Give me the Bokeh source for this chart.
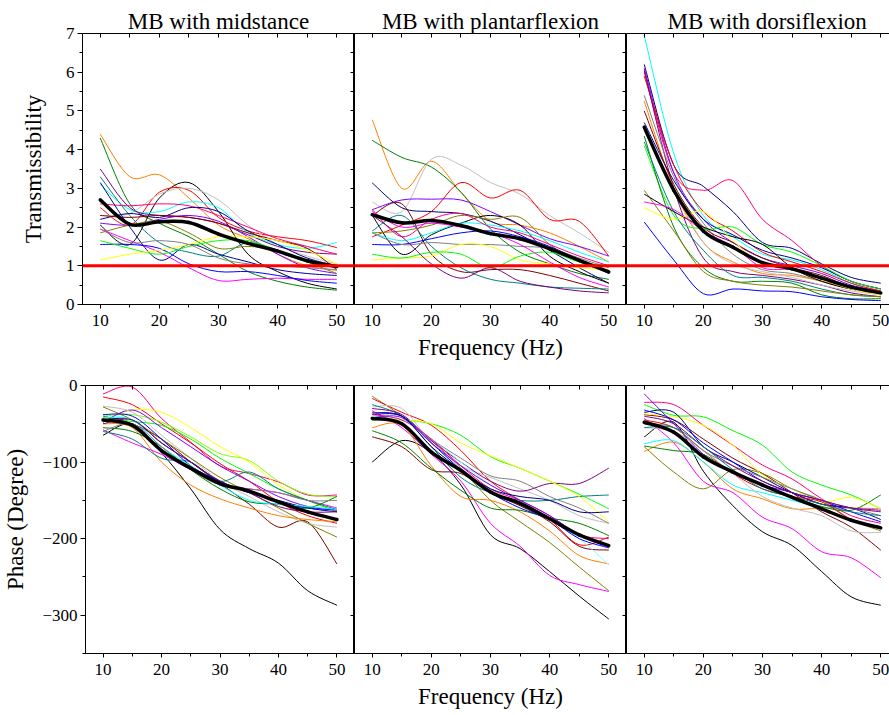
from bokeh.plotting import figure
from bokeh.models import LinearAxis, FixedTicker, Span, Range1d
from bokeh.layouts import column, row
from bokeh.embed import file_html
from bokeh.resources import INLINE

FREQ = [10, 15, 20, 25, 30, 35, 40, 45, 50]
TITLES = ["MB with midstance", "MB with plantarflexion", "MB with dorsiflexion"]
X_TICKS = [10, 20, 30, 40, 50]
X_MINOR = [15, 25, 35, 45]
T_TICKS = [0, 1, 2, 3, 4, 5, 6, 7]
P_TICKS = [-300, -200, -100, 0]

# ---- Transmissibility, midstance ----
T_MID_COLORS = ["#FF8000", "#008000", "#000000", "#FF0000", "#C0C0C0", "#00FFFF", "#800080",
                "#008080", "#FF0080", "#000080", "#8000FF", "#808000", "#800000", "#FF00FF",
                "#0000FF", "#0000A0", "#00FF00", "#FFFF00", "#808080"]
T_MID = [
    [4.40, 3.30, 3.35, 2.75, 2.05, 1.70, 1.30, 1.00, 0.88],
    [4.30, 2.60, 2.10, 1.75, 1.30, 0.85, 0.60, 0.45, 0.37],
    [2.05, 1.55, 2.75, 3.15, 2.40, 1.30, 0.85, 0.55, 0.40],
    [2.50, 2.05, 2.90, 2.95, 2.25, 1.90, 1.75, 1.65, 1.47],
    [2.30, 2.35, 2.85, 3.00, 2.70, 2.05, 1.55, 1.25, 1.05],
    [3.10, 2.45, 2.40, 2.65, 2.50, 1.85, 1.55, 1.45, 1.60],
    [3.50, 2.50, 2.30, 2.25, 2.10, 1.80, 1.50, 1.35, 1.30],
    [3.30, 2.30, 1.60, 1.35, 1.25, 1.60, 1.35, 1.10, 0.95],
    [2.60, 2.55, 2.60, 2.55, 2.30, 2.00, 1.70, 1.50, 1.30],
    [2.20, 2.35, 2.25, 2.50, 2.40, 1.90, 1.55, 1.20, 1.00],
    [2.10, 2.05, 2.20, 2.30, 2.15, 1.75, 1.30, 0.95, 0.80],
    [1.85, 2.05, 2.15, 1.85, 1.45, 1.50, 1.40, 1.10, 0.80],
    [2.30, 2.25, 2.30, 2.25, 2.10, 1.85, 1.65, 1.45, 0.90],
    [1.95, 1.65, 1.35, 0.95, 0.62, 0.65, 0.68, 0.65, 0.65],
    [1.55, 1.55, 1.45, 1.05, 0.85, 0.85, 0.75, 0.62, 0.55],
    [3.15, 2.00, 1.15, 1.55, 1.30, 1.10, 0.90, 0.80, 0.75],
    [1.65, 1.45, 1.30, 1.50, 1.65, 1.65, 1.40, 1.10, 1.00],
    [1.15, 1.30, 1.40, 1.55, 1.75, 1.75, 1.65, 1.40, 1.05],
    [1.95, 1.60, 1.65, 1.55, 1.20, 1.05, 1.00, 0.95, 0.90],
]
T_MID_MEAN = [2.70, 2.07, 2.14, 2.12, 1.82, 1.58, 1.38, 1.13, 0.98]

# ---- Transmissibility, plantarflexion ----
T_PLA_COLORS = ["#FF8000", "#008000", "#C0C0C0", "#FF0000", "#000080", "#8000FF", "#800000",
                "#000000", "#808000", "#00FFFF", "#FF0080", "#008080", "#0000FF", "#808080",
                "#FFFF00", "#00FF00", "#800080", "#FF00FF"]
T_PLA = [
    [4.77, 3.00, 3.70, 2.90, 2.15, 2.05, 1.85, 1.50, 1.10],
    [4.24, 3.80, 3.55, 2.90, 1.95, 1.35, 1.05, 0.80, 0.65],
    [2.65, 2.40, 3.75, 3.60, 3.15, 2.85, 2.30, 1.85, 1.35],
    [1.75, 2.05, 2.40, 3.15, 2.75, 2.95, 2.20, 2.15, 1.25],
    [3.14, 2.50, 2.40, 2.35, 2.15, 1.80, 1.40, 0.95, 0.55],
    [2.45, 2.70, 2.72, 2.70, 2.40, 2.05, 1.70, 1.50, 1.25],
    [2.30, 2.60, 1.30, 0.85, 0.90, 0.90, 0.75, 0.55, 0.35],
    [2.30, 1.30, 1.80, 2.10, 2.30, 2.05, 1.25, 0.85, 0.55],
    [1.85, 1.90, 2.05, 2.30, 2.20, 2.25, 1.55, 1.10, 0.85],
    [1.85, 1.65, 1.85, 2.10, 2.05, 1.90, 1.65, 1.35, 1.10],
    [2.45, 1.75, 2.20, 2.35, 2.00, 1.85, 1.55, 1.25, 1.00],
    [1.90, 2.30, 1.50, 0.95, 0.65, 0.55, 0.45, 0.42, 0.40],
    [1.55, 1.55, 1.70, 1.85, 1.90, 1.75, 1.50, 1.15, 0.80],
    [1.85, 1.55, 1.60, 1.55, 1.55, 1.50, 1.45, 1.20, 0.95],
    [1.15, 1.20, 1.25, 1.55, 1.50, 1.15, 1.05, 0.95, 0.90],
    [1.30, 1.20, 1.35, 1.30, 0.95, 1.25, 1.35, 1.10, 1.00],
    [2.30, 1.75, 1.05, 0.68, 0.95, 0.60, 0.45, 0.35, 0.30],
    [2.40, 2.00, 2.10, 2.00, 1.85, 1.55, 1.10, 0.70, 0.45],
]
T_PLA_MEAN = [2.32, 2.11, 2.17, 2.04, 1.83, 1.70, 1.44, 1.14, 0.84]

# ---- Transmissibility, dorsiflexion ----
T_DOR_COLORS = ["#00FFFF", "#000080", "#FF0080", "#8000FF", "#FF0000", "#800080", "#808080",
                "#FF8000", "#0000A0", "#800000", "#00FF00", "#008000", "#008080", "#C0C0C0",
                "#808000", "#000000", "#FF00FF", "#FFFF00", "#0000FF"]
T_DOR = [
    [6.95, 3.90, 2.30, 1.75, 1.30, 1.15, 0.90, 0.55, 0.30],
    [6.20, 3.60, 3.05, 2.40, 1.60, 1.45, 1.05, 0.70, 0.55],
    [6.00, 3.40, 2.95, 3.20, 2.20, 1.65, 1.00, 0.60, 0.40],
    [6.10, 3.40, 2.20, 1.60, 1.20, 1.00, 0.80, 0.50, 0.35],
    [5.90, 3.60, 2.40, 1.90, 1.35, 1.10, 0.85, 0.55, 0.35],
    [6.05, 3.00, 1.20, 0.85, 0.75, 0.65, 0.50, 0.30, 0.20],
    [5.40, 3.30, 2.10, 1.30, 0.90, 0.80, 0.60, 0.40, 0.30],
    [5.25, 3.00, 1.60, 1.10, 0.80, 0.75, 0.60, 0.40, 0.25],
    [4.70, 3.20, 2.20, 1.80, 1.40, 1.20, 0.95, 0.60, 0.40],
    [5.00, 3.10, 2.00, 1.60, 1.20, 0.95, 0.75, 0.45, 0.30],
    [4.10, 2.30, 1.95, 2.00, 1.55, 1.35, 1.00, 0.60, 0.40],
    [4.35, 2.00, 0.95, 0.60, 0.60, 0.55, 0.25, 0.15, 0.15],
    [4.20, 2.40, 1.40, 0.75, 0.70, 0.60, 0.40, 0.25, 0.20],
    [4.50, 3.00, 1.60, 1.05, 0.85, 0.70, 0.50, 0.35, 0.25],
    [2.95, 1.90, 0.85, 0.60, 0.50, 0.45, 0.35, 0.25, 0.20],
    [2.85, 2.40, 2.00, 1.75, 1.55, 0.95, 0.60, 0.40, 0.30],
    [2.65, 2.45, 1.90, 1.50, 0.95, 0.90, 0.70, 0.45, 0.30],
    [2.50, 2.20, 2.40, 1.65, 1.05, 0.90, 0.65, 0.40, 0.25],
    [2.13, 1.15, 0.28, 0.40, 0.35, 0.33, 0.20, 0.13, 0.10],
]
T_DOR_MEAN = [4.58, 2.95, 1.90, 1.48, 1.08, 0.92, 0.68, 0.45, 0.30]

# ---- Phase, midstance ----
P_MID_COLORS = ["#000000", "#FF0080", "#FF0000", "#800000", "#80FF00", "#FFFF00", "#00FF00",
                "#8000FF", "#C0C0C0", "#808000", "#FF8000", "#FF00FF", "#008080", "#000080",
                "#0000FF", "#008000", "#00FFFF", "#808080", "#800080"]
P_MID = [
    [-65, -50, -88, -135, -188, -213, -232, -268, -287],
    [-11, -2, -43, -74, -105, -115, -126, -143, -143],
    [-15, -25, -50, -75, -102, -125, -152, -170, -180],
    [-40, -50, -70, -100, -128, -155, -185, -178, -233],
    [-40, -38, -48, -67, -89, -98, -125, -142, -145],
    [-45, -32, -35, -55, -80, -100, -130, -150, -165],
    [-42, -47, -52, -70, -95, -115, -135, -150, -165],
    [-48, -32, -55, -80, -105, -125, -145, -158, -163],
    [-27, -35, -65, -95, -125, -145, -165, -180, -185],
    [-28, -45, -70, -95, -120, -140, -160, -180, -198],
    [-50, -55, -100, -130, -148, -160, -170, -175, -178],
    [-58, -75, -90, -110, -128, -135, -140, -150, -160],
    [-60, -70, -95, -100, -125, -113, -135, -150, -162],
    [-45, -45, -75, -100, -125, -140, -150, -160, -165],
    [-38, -40, -70, -105, -125, -140, -152, -160, -162],
    [-55, -60, -80, -110, -135, -152, -155, -160, -145],
    [-42, -45, -80, -105, -130, -150, -155, -158, -162],
    [-60, -50, -80, -110, -130, -135, -140, -150, -150],
    [-50, -45, -75, -100, -125, -140, -158, -165, -165],
]
P_MID_MEAN = [-45, -52, -85, -108, -128, -138, -152, -165, -175]

# ---- Phase, plantarflexion ----
P_PLA_COLORS = ["#808000", "#FF0000", "#C0C0C0", "#008080", "#800080", "#00FF00", "#FFFF00",
                "#808080", "#000000", "#FF00FF", "#FF8000", "#800000", "#008000", "#80FFFF",
                "#0000FF", "#FF0080", "#8000FF", "#000080"]
P_PLA = [
    [-14, -40, -72, -108, -150, -178, -205, -237, -268],
    [-17, -35, -52, -85, -125, -150, -175, -208, -198],
    [-28, -30, -75, -105, -120, -135, -150, -170, -180],
    [-25, -40, -80, -120, -140, -150, -150, -145, -143],
    [-30, -38, -72, -100, -125, -138, -128, -128, -108],
    [-45, -45, -50, -65, -93, -108, -125, -142, -161],
    [-40, -45, -50, -75, -92, -108, -125, -145, -178],
    [-35, -40, -70, -95, -118, -125, -145, -160, -180],
    [-100, -72, -88, -130, -195, -213, -243, -275, -305],
    [-33, -55, -90, -125, -180, -210, -248, -260, -269],
    [-55, -52, -105, -145, -150, -165, -190, -222, -233],
    [-67, -80, -110, -115, -140, -157, -178, -210, -215],
    [-59, -75, -108, -137, -160, -163, -173, -180, -196],
    [-40, -45, -70, -100, -130, -150, -175, -200, -234],
    [-38, -40, -75, -110, -140, -160, -175, -200, -212],
    [-38, -45, -70, -105, -135, -150, -170, -195, -200],
    [-42, -42, -75, -105, -130, -150, -170, -195, -212],
    [-36, -40, -80, -110, -135, -145, -150, -165, -165],
]
P_PLA_MEAN = [-43, -50, -87, -111, -139, -154, -174, -195, -209]

# ---- Phase, dorsiflexion ----
P_DOR_COLORS = ["#000000", "#FF00FF", "#00FF00", "#FF0080", "#800000", "#808000", "#FF8000",
                "#00FFFF", "#008000", "#FFFF00", "#8000FF", "#000080", "#0000FF", "#FF0000",
                "#C0C0C0", "#808080", "#800080", "#008080"]
P_DOR = [
    [-67, -48, -112, -157, -191, -209, -243, -276, -287],
    [-43, -75, -125, -140, -172, -187, -217, -225, -251],
    [-25, -39, -41, -59, -78, -113, -130, -143, -161],
    [-22, -25, -52, -78, -104, -122, -148, -170, -180],
    [-38, -45, -70, -95, -115, -140, -165, -185, -215],
    [-80, -113, -135, -110, -115, -135, -150, -175, -190],
    [-86, -74, -100, -135, -148, -161, -160, -160, -161],
    [-76, -72, -100, -130, -140, -150, -160, -175, -185],
    [-79, -85, -90, -115, -130, -145, -158, -163, -143],
    [-37, -41, -52, -78, -117, -135, -152, -146, -161],
    [-11, -50, -90, -115, -130, -140, -155, -160, -163],
    [-35, -35, -80, -100, -120, -140, -155, -160, -175],
    [-32, -45, -75, -100, -125, -140, -150, -165, -178],
    [-45, -55, -85, -115, -135, -145, -152, -175, -185],
    [-55, -60, -85, -115, -145, -160, -170, -190, -192],
    [-50, -55, -85, -105, -120, -135, -150, -160, -170],
    [-40, -50, -80, -105, -125, -140, -150, -160, -165],
    [-55, -55, -80, -110, -135, -145, -155, -165, -170],
]
P_DOR_MEAN = [-48, -61, -93, -113, -130, -146, -161, -176, -186]

TOP = [(T_MID, T_MID_COLORS, T_MID_MEAN), (T_PLA, T_PLA_COLORS, T_PLA_MEAN),
       (T_DOR, T_DOR_COLORS, T_DOR_MEAN)]
BOT = [(P_MID, P_MID_COLORS, P_MID_MEAN), (P_PLA, P_PLA_COLORS, P_PLA_MEAN),
       (P_DOR, P_DOR_COLORS, P_DOR_MEAN)]

FONT = "Liberation Serif"
FRAME_W = [272, 272, 263]
PX_PER_HZ = 272 / 46.0
TITLE_ALIGN = ["center", "center", "left"]
TITLE_OFFSET = [0, 0, 41]


def spline_segments(xs, ys):
    """Cubic (Catmull-Rom) connection of the read points, as Bezier segments."""
    n = len(xs)
    seg = dict(x0=[], y0=[], x1=[], y1=[], cx0=[], cy0=[], cx1=[], cy1=[])
    for i in range(n - 1):
        i0 = max(i - 1, 0)
        i3 = min(i + 2, n - 1)
        seg["x0"].append(xs[i]); seg["y0"].append(ys[i])
        seg["x1"].append(xs[i + 1]); seg["y1"].append(ys[i + 1])
        seg["cx0"].append(xs[i] + (xs[i + 1] - xs[i0]) / 6.0)
        seg["cy0"].append(ys[i] + (ys[i + 1] - ys[i0]) / 6.0)
        seg["cx1"].append(xs[i + 1] - (xs[i3] - xs[i]) / 6.0)
        seg["cy1"].append(ys[i + 1] - (ys[i3] - ys[i]) / 6.0)
    return seg


def hidden_labels(ax, ticks):
    ax.major_label_overrides = {t: "" for t in ticks}
    ax.major_label_standoff = 0
    ax.major_label_text_font_size = "0px"


def make_panel(col, is_top):
    fw = FRAME_W[col]
    left = 82 if col == 0 else 0
    if is_top:
        btop, fh, bbot = 33, 271, 64
        yr = Range1d(0, 7)
    else:
        btop, fh, bbot = 17, 268, 62
        yr = Range1d(-350, 0)
    xr = Range1d(7, 7 + fw / PX_PER_HZ)
    p = figure(width=left + fw, height=btop + fh + bbot, x_range=xr, y_range=yr,
               output_backend="svg", toolbar_location=None,
               x_axis_location=None, y_axis_location=None,
               min_border_left=left, min_border_right=0,
               min_border_top=btop, min_border_bottom=bbot)
    p.xgrid.visible = False
    p.ygrid.visible = False
    p.background_fill_color = "white"
    p.border_fill_color = "white"
    if col < 2:
        p.outline_line_color = "black"
        p.outline_line_width = 1
    else:
        p.outline_line_color = None

    if is_top:
        p.title.text = TITLES[col]
        p.title.align = TITLE_ALIGN[col]
        p.title.offset = TITLE_OFFSET[col]
        p.title.standoff = 0
        p.title.text_font = FONT
        p.title.text_font_size = "23px"
        p.title.text_font_style = "normal"
        p.title.text_color = "black"

    # bottom axis
    xb = LinearAxis(ticker=FixedTicker(ticks=X_TICKS, minor_ticks=X_MINOR))
    xb.major_tick_out = 4
    xb.major_tick_in = 0
    xb.minor_tick_out = 3
    xb.minor_tick_in = 0
    xb.major_label_standoff = 6
    xb.major_label_text_font = FONT
    xb.major_label_text_font_size = "17px"
    xb.major_label_text_color = "black"
    xb.axis_line_color = "black"
    xb.major_tick_line_color = "black"
    xb.minor_tick_line_color = "black"
    if col == 1:
        xb.axis_label = "Frequency (Hz)"
        xb.axis_label_text_font = FONT
        xb.axis_label_text_font_size = "23px"
        xb.axis_label_text_font_style = "normal"
        xb.axis_label_text_color = "black"
        xb.axis_label_standoff = 6
    p.add_layout(xb, "below")

    # top axis (ticks inside)
    top_ticks = sorted(X_TICKS + X_MINOR)
    xt = LinearAxis(ticker=FixedTicker(ticks=top_ticks))
    xt.major_tick_in = 4
    xt.major_tick_out = 0
    xt.minor_tick_in = 0
    xt.minor_tick_out = 0
    xt.axis_line_color = "black"
    hidden_labels(xt, top_ticks)
    p.add_layout(xt, "above")

    if is_top:
        major = T_TICKS
        minor = [0.5, 1.5, 2.5, 3.5, 4.5, 5.5, 6.5]
    else:
        major = P_TICKS
        minor = [-350, -250, -150, -50]

    if col == 0:
        yl = LinearAxis(ticker=FixedTicker(ticks=major, minor_ticks=minor))
        yl.major_tick_out = 5
        yl.major_tick_in = 0
        yl.minor_tick_out = 3
        yl.minor_tick_in = 0
        yl.major_label_standoff = 3
        yl.major_label_text_font = FONT
        yl.major_label_text_font_size = "17px"
        yl.major_label_text_color = "black"
        yl.axis_label = "Transmissibility" if is_top else "Phase (Degree)"
        yl.axis_label_text_font = FONT
        yl.axis_label_text_font_size = "23px"
        yl.axis_label_text_font_style = "normal"
        yl.axis_label_text_color = "black"
        yl.axis_label_standoff = 17 if is_top else 11
        p.add_layout(yl, "left")
    elif col == 2:
        yl = LinearAxis(ticker=FixedTicker(ticks=[]))
        yl.major_tick_out = 0
        yl.major_tick_in = 0
        yl.minor_tick_out = 0
        yl.minor_tick_in = 0
        yl.axis_line_color = "black"
        yl.major_label_standoff = 0
        yl.major_label_text_font_size = "0px"
        p.add_layout(yl, "left")

    if col < 2:
        rticks = sorted(major + minor)
        yr_ax = LinearAxis(ticker=FixedTicker(ticks=rticks))
        yr_ax.major_tick_in = 4
        yr_ax.major_tick_out = 0
        yr_ax.minor_tick_in = 0
        yr_ax.minor_tick_out = 0
        yr_ax.axis_line_color = "black"
        hidden_labels(yr_ax, rticks)
        p.add_layout(yr_ax, "right")

    data, colors, mean = (TOP if is_top else BOT)[col]
    for vals, c in zip(data, colors):
        p.bezier(line_color=c, line_width=1, **spline_segments(FREQ, vals))
    p.bezier(line_color="black", line_width=3.5, line_cap="round",
             **spline_segments(FREQ, mean))

    if is_top:
        p.add_layout(Span(location=1, dimension="width", line_color="#FF0000", line_width=3))
    return p


top_row = row(*[make_panel(c, True) for c in range(3)])
bot_row = row(*[make_panel(c, False) for c in range(3)])
layout = column(top_row, bot_row)

open("out.html", "w").write(file_html(layout, INLINE))
